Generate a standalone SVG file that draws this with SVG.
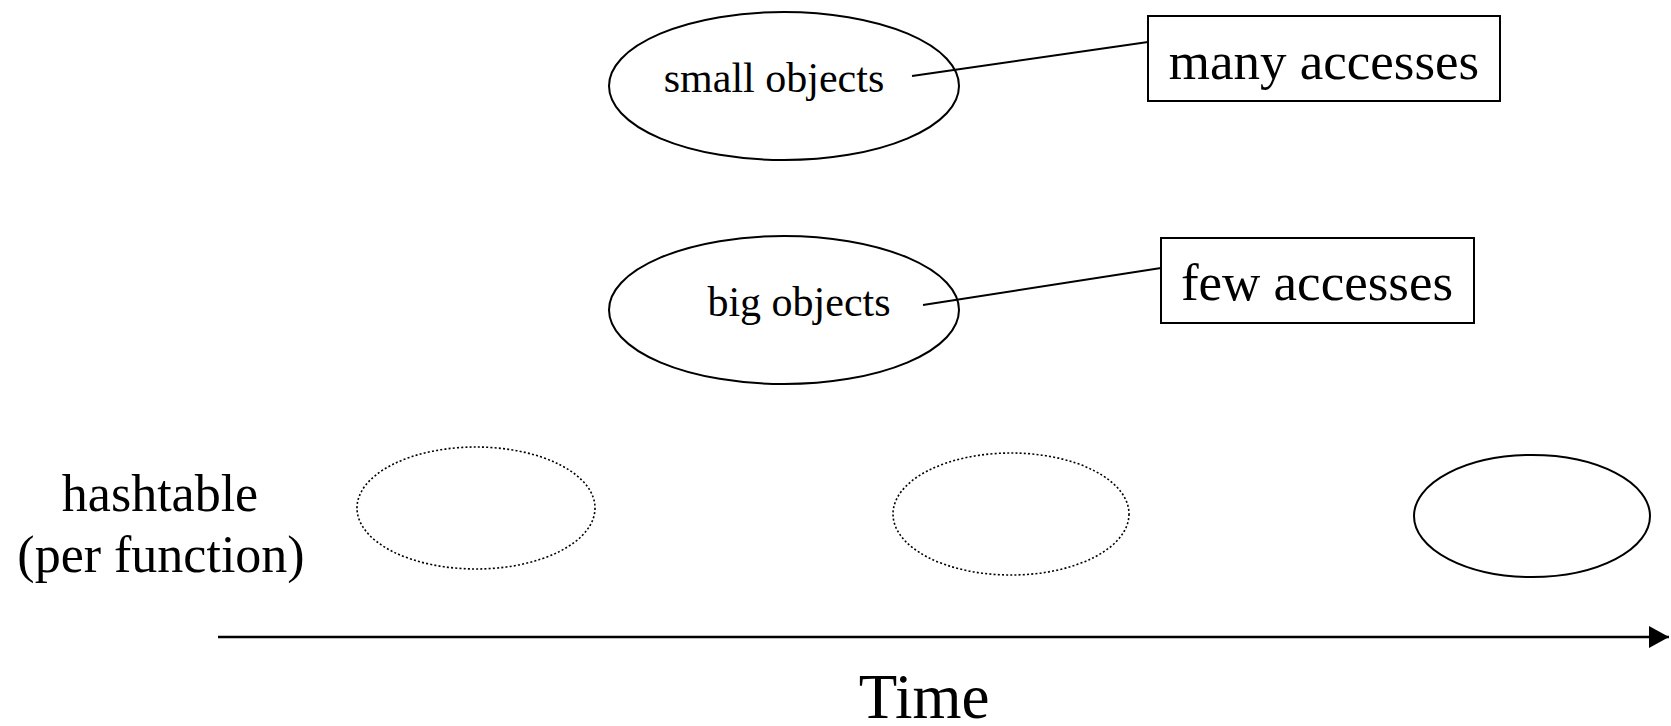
<svg xmlns="http://www.w3.org/2000/svg" width="1671" height="726" viewBox="0 0 1671 726">
  <style>
    text { font-family: "Liberation Serif", "Times New Roman", serif; fill: #000; }
    .shape { fill: #fff; stroke: #000; stroke-width: 2; }
    .dotted { fill: none; stroke: #000; stroke-width: 1.6; stroke-dasharray: 2 2.2; }
    .link { fill: none; stroke: #000; stroke-width: 2; }
    .mid { font-size: 42px; }
    .big { font-size: 53px; }
    .side { font-size: 52px; }
  </style>
  <defs>
    <marker id="arrow" viewBox="0 0 20 22" refX="20" refY="11" markerWidth="20" markerHeight="22" markerUnits="userSpaceOnUse" orient="auto">
      <path d="M0,0 L20,11 L0,22 Z" fill="#000"/>
    </marker>
  </defs>

  <g id="small-objects">
    <ellipse class="shape" cx="784" cy="86" rx="175" ry="74"/>
    <text class="mid" x="774" y="92" text-anchor="middle">small objects</text>
  </g>

  <g id="many-accesses">
    <rect class="shape" x="1148" y="16" width="352" height="85"/>
    <text class="big" x="1324" y="79" text-anchor="middle">many accesses</text>
  </g>

  <g id="big-objects">
    <ellipse class="shape" cx="784" cy="310" rx="175" ry="74"/>
    <text class="mid" x="799" y="316" text-anchor="middle">big objects</text>
  </g>

  <g id="few-accesses">
    <rect class="shape" x="1161" y="238" width="313" height="85"/>
    <text class="big" x="1317" y="300" text-anchor="middle">few accesses</text>
  </g>

  <g id="hashtable-label">
    <text class="side" x="160" y="511" text-anchor="middle">hashtable</text>
    <text class="side" x="161" y="572" text-anchor="middle">(per function)</text>
  </g>

  <g id="hashtable-1">
    <ellipse class="dotted" cx="476" cy="508" rx="119" ry="61"/>
  </g>
  <g id="hashtable-2">
    <ellipse class="dotted" cx="1011" cy="514" rx="118" ry="61"/>
  </g>
  <g id="hashtable-3">
    <ellipse class="shape" cx="1532" cy="516" rx="118" ry="61"/>
  </g>

  <g id="time-label">
    <text x="924" y="718" font-size="63" text-anchor="middle">Time</text>
  </g>

  <!-- connectors: callout lines start at the label text, drawn above the shapes -->
  <g id="connectors">
    <line class="link" x1="912" y1="76" x2="1148" y2="42"/>
    <line class="link" x1="923" y1="305" x2="1161" y2="268"/>
    <line x1="218" y1="637" x2="1669" y2="637" stroke="#000" stroke-width="2.5" marker-end="url(#arrow)"/>
  </g>
</svg>
